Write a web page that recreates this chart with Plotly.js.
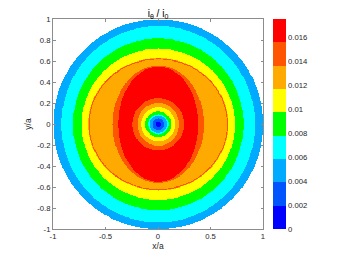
<!DOCTYPE html>
<html>
<head>
<meta charset="utf-8">
<script src="https://cdn.plot.ly/plotly-3.0.1.min.js"></script>
<style>html,body{margin:0;padding:0;background:#fff;}#chart{width:344px;height:258px;}</style>
</head>
<body>
<div id="chart"></div>
<script>
// Level boundaries of the filled contours (colour bar)
const levelBounds = [0, 0.00194, 0.00389, 0.00583, 0.00778, 0.00972, 0.01167, 0.01361, 0.01556, 0.0175];
const levelColors = ['#0000ff', '#0055ff', '#00aaff', '#00ffff', '#00ff00', '#ffff00', '#ffaa00', '#ff5500', '#ff0000'];

// Radial profile knots: radius where each value is reached
// along the x axis (knotRx) and along the y axis (knotRy)
const knotRx  = [0, 0.024, 0.055, 0.084, 0.097, 0.124, 0.162, 0.198, 0.246, 0.31, 0.381, 0.435, 0.55, 0.65, 0.657, 0.662, 0.668, 0.730, 0.812, 0.922, 1.0];
const knotRy  = [0, 0.024, 0.055, 0.082, 0.095, 0.121, 0.163, 0.205, 0.248, 0.40, 0.548, 0.558, 0.59, 0.612, 0.619, 0.624, 0.630, 0.720, 0.817, 0.935, 1.0];
const knotVal = [0, 0.00194, 0.00389, 0.00583, 0.00778, 0.00972, 0.01167, 0.01361, 0.01556, 0.0168, 0.01556, 0.01361, 0.0127, 0.0126, 0.0142, 0.0142, 0.01167, 0.00972, 0.00778, 0.00583, 0.0046];

const xTickVals = [-1, -0.5, 0, 0.5, 1];
const xTickText = ['-1', '-0.5', '0', '0.5', '1'];
const yTickVals = [-1, -0.8, -0.6, -0.4, -0.2, 0, 0.2, 0.4, 0.6, 0.8, 1];
const yTickText = ['-1', '-0.8', '-0.6', '-0.4', '-0.2', '0', '0.2', '0.4', '0.6', '0.8', '1'];
const cbTickVals = [0, 0.002, 0.004, 0.006, 0.008, 0.01, 0.012, 0.014, 0.016];
const cbTickText = ['0', '0.002', '0.004', '0.006', '0.008', '0.01', '0.012', '0.014', '0.016'];

// grid
const N = 401;
const gx = [], gy = [];
for (let i = 0; i < N; i++) { gx.push(-1 + 2 * i / (N - 1)); gy.push(-1 + 2 * i / (N - 1)); }

function knotRadius(k, c2, s2) {
  if (knotRx[k] === 0) return 0;
  return 1 / Math.sqrt(c2 / (knotRx[k] * knotRx[k]) + s2 / (knotRy[k] * knotRy[k]));
}
function fieldAt(x, y) {
  const r = Math.sqrt(x * x + y * y);
  if (r > 1.0) return null;
  const c2 = r > 0 ? (x * x) / (r * r) : 1;
  const s2 = 1 - c2;
  let prevR = 0, prevV = knotVal[0];
  for (let k = 1; k < knotVal.length; k++) {
    const R = knotRadius(k, c2, s2);
    if (r <= R) {
      const t = (r - prevR) / (R - prevR);
      return prevV + t * (knotVal[k] - prevV);
    }
    prevR = R; prevV = knotVal[k];
  }
  return knotVal[knotVal.length - 1];
}
const z = gy.map(y => gx.map(x => fieldAt(x, y)));

const zmin = levelBounds[0], zmax = levelBounds[levelBounds.length - 1];
const colorscale = [];
for (let k = 0; k < levelColors.length; k++) {
  colorscale.push([(levelBounds[k] - zmin) / (zmax - zmin), levelColors[k]]);
  colorscale.push([(levelBounds[k + 1] - zmin) / (zmax - zmin), levelColors[k]]);
}

const font = {family: 'Liberation Sans, Arial, sans-serif', size: 7.7, color: '#262626'};
const axisCommon = {
  range: [-1, 1], showgrid: false, zeroline: false, showline: true, linecolor: '#8c8c8c', linewidth: 1,
  mirror: 'ticks', ticks: 'inside', ticklen: 2.5, tickcolor: '#8c8c8c', tickfont: font
};

const trace = {
  type: 'heatmap', x: gx, y: gy, z: z, zmin: zmin, zmax: zmax, zsmooth: 'best',
  colorscale: colorscale, hoverinfo: 'skip',
  colorbar: {
    x: 1.046, xanchor: 'left', xref: 'paper', y: 0.5, yanchor: 'middle', len: 1, lenmode: 'fraction',
    thickness: 13, outlinewidth: 0, tickvals: cbTickVals, ticktext: cbTickText,
    ticks: '', tickfont: font, ypad: 0, xpad: 0
  }
};

const layout = {
  width: 344, height: 258,
  margin: {l: 53, r: 81, t: 19, b: 29},
  paper_bgcolor: '#fff', plot_bgcolor: '#fff',
  font: font,
  title: {text: 'i<sub>θ</sub> / i<sub>0</sub>', font: {family: font.family, size: 10, color: '#000'},
          x: 0.5, xref: 'paper', xanchor: 'center', y: 1, yref: 'paper', yanchor: 'bottom', pad: {b: 2}},
  xaxis: Object.assign({}, axisCommon, {tickvals: xTickVals, ticktext: xTickText,
          title: {text: 'x/a', font: {family: font.family, size: 8.5, color: '#262626'}, standoff: 2}}),
  yaxis: Object.assign({}, axisCommon, {tickvals: yTickVals, ticktext: yTickText,
          title: {text: 'y/a', font: {family: font.family, size: 8.5, color: '#262626'}, standoff: 4}})
};

Plotly.newPlot('chart', [trace], layout, {staticPlot: true, displayModeBar: false});
</script>
</body>
</html>
